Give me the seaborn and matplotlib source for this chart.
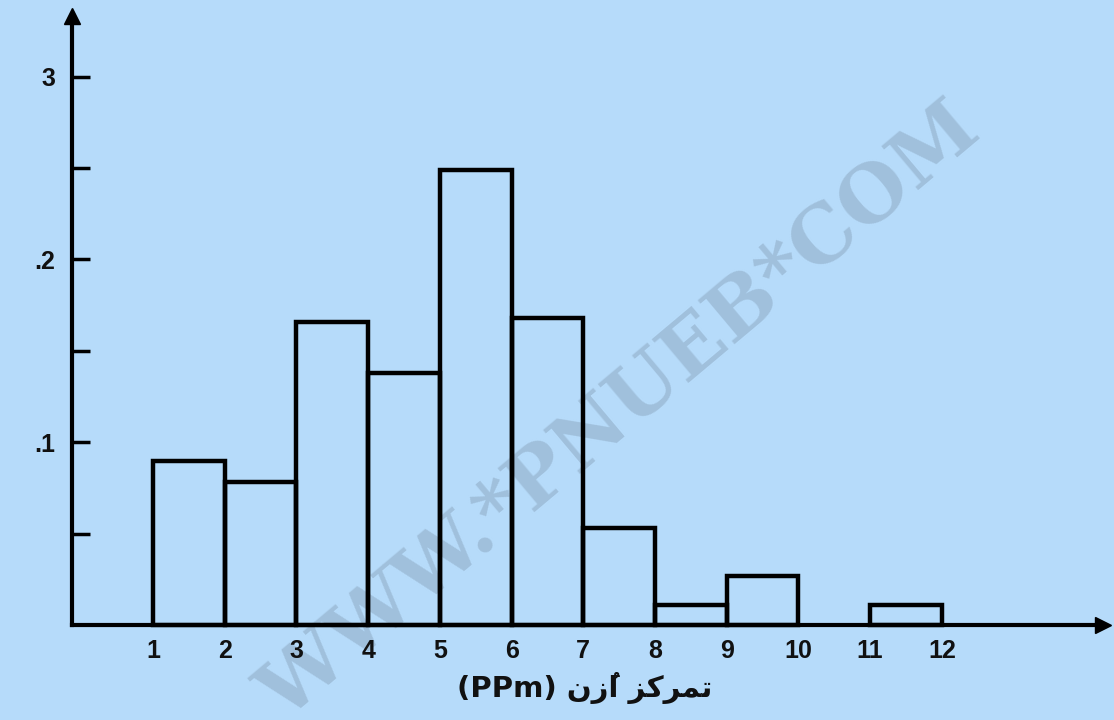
import matplotlib
matplotlib.use("Agg")
import matplotlib.pyplot as plt
import seaborn as sns

# ---- data ----
bin_left = [1, 2, 3, 4, 5, 6, 7, 8, 9, 11]
heights = [0.090, 0.078, 0.166, 0.138, 0.249, 0.168, 0.053, 0.011, 0.027, 0.011]
x_ticks = [1, 2, 3, 4, 5, 6, 7, 8, 9, 10, 11, 12]
y_ticks = [0.05, 0.10, 0.15, 0.20, 0.25, 0.30]
y_tick_labels = ["", ".1", "", ".2", "", "3"]
# visual (pre-shaped, left-to-right) form of "تمرکز اُزن (PPm)"
xlabel = "(PPm) \uFEE5\uFEAF\u064F\uFE8D \uFEB0\uFB90\uFEAE\uFEE4\uFE97"
watermark = "WWW.*PNUEB*COM"

bin_centers = [b + 0.5 for b in bin_left]

sns.set_theme(style="white")
plt.rcParams["font.family"] = ["Liberation Sans", "DejaVu Sans"]

BG = "#b6dbfa"
fig = plt.figure(figsize=(11.14, 7.2), dpi=100, facecolor=BG)
ax = fig.add_axes([0, 0, 1, 1])
ax.set_facecolor(BG)

# watermark (behind axis labels and bars)
ax.text(620 / 1114, 1 - 412 / 720, watermark, transform=ax.transAxes,
        rotation=40, rotation_mode="anchor", ha="center", va="center",
        fontsize=57, fontweight="bold", family="DejaVu Serif",
        color="#a0c0dc", zorder=0.5, clip_on=True)

sns.barplot(x=bin_centers, y=heights, native_scale=True, width=1, fill=False,
            edgecolor="black", linewidth=3.2, ax=ax, zorder=3, errorbar=None)

ax.set_xlim(-1.134, 14.40)
ax.set_ylim(-0.0520, 0.342)

x0 = -0.126
for s in ["top", "right"]:
    ax.spines[s].set_visible(False)
ax.spines["left"].set_position(("data", x0))
ax.spines["left"].set_bounds(0, 0.330)
ax.spines["bottom"].set_position(("data", 0))
ax.spines["bottom"].set_bounds(x0, 14.2)
for s in ["left", "bottom"]:
    ax.spines[s].set_color("black")
    ax.spines[s].set_linewidth(3)
    ax.spines[s].set_zorder(4)

# arrow heads
ax.plot([x0], [0.333], marker="^", ms=11, color="black", clip_on=False, zorder=5)
ax.plot([14.25], [0], marker=">", ms=11, color="black", clip_on=False, zorder=5)

ax.set_yticks(y_ticks)
ax.set_yticklabels(y_tick_labels)
ax.tick_params(axis="y", direction="in", length=13, width=2.5, color="black",
               pad=12, labelsize=18, left=True, labelcolor="#111111")
for t in ax.get_yticklabels():
    t.set_fontweight("bold")

ax.set_xticks(x_ticks)
ax.set_xticklabels([str(v) for v in x_ticks])
ax.tick_params(axis="x", length=0, pad=10, labelsize=18, bottom=True,
               labelcolor="#111111")
for t in ax.get_xticklabels():
    t.set_fontweight("bold")

ax.set_xlabel(xlabel, fontsize=21, fontweight="bold", family=["DejaVu Sans"],
              color="#111111")
ax.xaxis.set_label_coords(585 / 1114, (720 - 672) / 720)
ax.set_ylabel("")

fig.savefig("out.png", dpi=100, facecolor=BG)
